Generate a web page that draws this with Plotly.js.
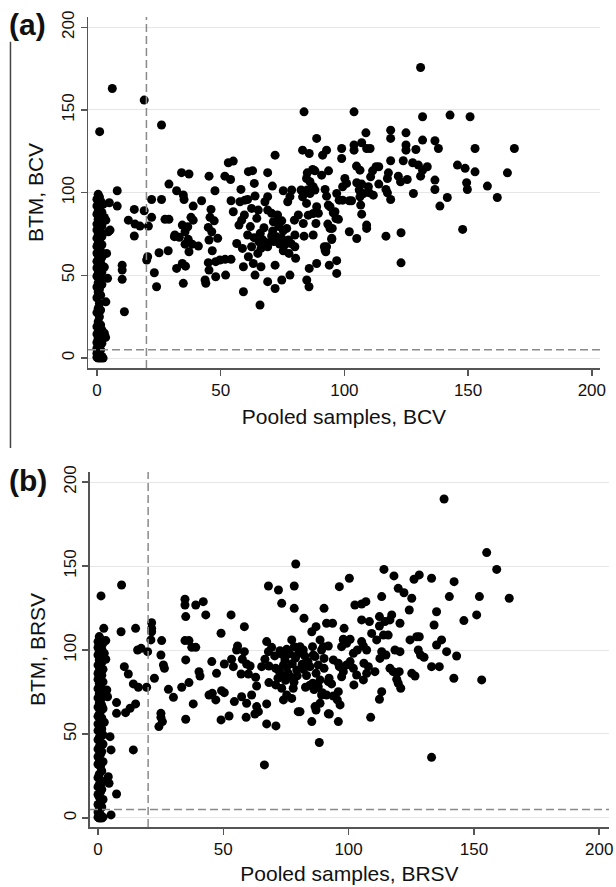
<!DOCTYPE html>
<html>
<head>
<meta charset="utf-8">
<script src="https://cdn.plot.ly/plotly-3.0.1.min.js"></script>
<style>html,body{margin:0;padding:0;background:#fff;}#chart{width:616px;height:887px;}</style>
</head>
<body>
<div id="chart"></div>
<script>
// ---------- Panel (a): BCV ----------
// [pooled samples, BTM] pairs
const bcvNearZero = [
[0.5,99],[1,97.5],[0,96],[1.5,95],[2.5,93],[0,92],[1,90.5],[0.5,89],[2,88],[0,87],[1,85.5],[3,85],[0.5,84],[1.5,82.5],[0,81],[2,80],[1,79],[0,77.5],[4.6,76.4],[5.3,77.4],[1.5,76],[0.5,75],[2,73.5],[0,72.5],[1,71],[0.5,69.5],[2,68.5],[0,67.5],[1,66],[1.5,64.5],[0,63.5],[0.5,62],[2,61],[1,60],[0,58.5],[1.5,57.5],[0.5,56],[3,55],[0,54.5],[1,53],[2,52],[0.5,51],[0,49.5],[1.5,48.5],[4.3,48.2],[1,47],[0.5,45.5],[2,44.5],[0,43],[1,41.5],[0.5,40],[1.5,38],[0,36.5],[3.6,34],[1,33],[0.5,30],[1.5,29],[0,27.5],[1,25],[0.5,22],[1.5,20],[0,19],[1,18],[2,17],[0.5,16],[3,15],[0,14.5],[1.5,13],[3.5,12.5],[0.5,12],[1,10.5],[0,9.5],[2,9],[0.5,8],[1,7],[0,6],[1.5,5],[0.5,4],[0,3],[1,2],[2,1],[0,0.5],[0.5,0],[1.5,0],[2.5,0],
[3.6,83.4],[3.9,63.3],[1.1,136.9],[6.2,163],[8.2,101.2],[8.2,91.9],[5,93.9],
[11.1,28],[10.2,56.2],[10.2,53.2],[10.2,47.6]
];
const bcvLow = [
[19.1,156],[26.1,140.9],[72,122.7],[53.1,118.1],[55.1,119.1],
[34.2,112.1],[37.2,111.3],[45.3,110],[51.7,110],[54,108],[61.2,112.7],[62.9,113.3],[69,112.1],[29.1,105.2],[63.6,105.6],[70.9,104],
[32.2,101.2],[34.9,98.6],[35.2,95.9],[22.1,95.9],[26.1,95.9],[47.7,101.2],[58.2,102],[60.9,95.9],[63.9,98],[67.9,94.5],[69,97.6],[75.3,101.2],[78.7,101.6],[78,97.6],[77.1,94.5],[42.3,95.1],[54.2,95.1],[57.8,94.5],[59.8,95.5],
[15.1,89.9],[19.1,89.1],[12.7,83.4],[15.4,81],[17.4,79.8],[20.8,79.8],[15.1,73.8],[22.1,85.1],[27.5,83.9],[29.1,83.9],[38.9,91.9],[38,85.1],[38.9,83.4],[34.5,80.4],[36.7,79.4],[35.6,76.4],[46.1,89.9],[45.7,85.1],[47.4,83],[45,79],[46.4,76.4],[55.1,88.5],[57.4,80.4],[58.5,83.4],[59.6,86.5],[62.5,90.5],[65.2,89.5],[64.6,84.5],[69,89.5],[70.6,87.5],[73,86.5],[71.3,82.4],[73,83.4],[74.7,83],[76.7,78.4],[79.8,83.4],[81.4,86.5],[31.5,74.4],[33.3,73],
[36.9,71.8],[38.5,68.9],[41,67.7],[35.6,68.9],[37.2,64.3],[45.3,71.4],[48.8,72.4],[46.6,64.9],[56.5,69.3],[60.9,74.4],[58.8,66.3],[61.2,61.3],[62.5,67.3],[65.5,70.3],[66.3,66.3],[65,63.3],[69,67.3],[70.6,73.8],[72.6,73.4],[74.7,72.4],[75.3,77],[77.4,71.4],[80,74.4],[75.3,64.9],[77.6,63.3],[80,67.3],[80.3,60.3],[20.5,61.3],[20.1,59.3],[25.1,63.7],[28.8,64.9],[31.3,73.4],
[23.2,51.6],[24.1,43.1],[32.2,54.2],[34.5,57.2],[35.8,55.6],[34.9,45.2],[45,57.7],[45.3,53.2],[48,58.3],[49.7,59.3],[51.8,59.7],[54.2,59.7],[43.7,47.2],[44,45.2],[48,49.2],[52,50.2],[59.2,55.2],[63.2,57.2],[63.9,50.2],[66.3,55.2],[72,56.2],[69,46.2],[72,42.1],[74.7,47.2],[78,50.2],[59.2,40.1],[65.9,32.1],
[84.8,47.2],[85.7,43.1],[96.9,51.2],
[67,71.5],[68.5,69.8],[71.5,70.5],[73.8,69],[76,68.5],[78.5,69.2],[66,75.5],[63.5,72.8],[71,76.8],[73.5,79.5],[67.5,78.8],[62,79.5]
];
const bcvHigh = [
[130.8,175.7],[83.7,148.9],[103.9,148.9],[131.6,145.9],[142.7,146.9],[150.8,145.9],[108.7,136.2],[118.7,137.8],[118.7,132.8],[124.9,136.2],[124.9,128.8],[124.9,125.7],[128.9,126.1],[131.6,131.8],[136.6,131.4],[138,126.7],[152.8,126.7],[168.7,126.7],[88.8,132.8],[98.9,126.7],[98.9,120.7],[103.9,128.8],[103.9,125.7],[107,130.2],[109,126.7],[110.4,126.7],[92.8,125.7],[91.2,122.7],[83.1,125.7],[85.8,123.7],
[118.7,119.3],[123.8,119.3],[127.6,118.1],[129.9,116.7],[133.5,115.7],[130.8,110],[131.6,113.6],[145.7,116.7],[148.8,114.7],[152.8,112.6],[165.9,112],[104.9,116.1],[106.3,113.6],[112.8,115.7],[113.9,115.7],[111.4,113.2],[110.6,109.6],[117.8,112],[117.4,108.6],[121.8,110],[122.7,106.6],[125.4,108],[93.6,113.2],[90.8,110.6],[85,112],[87.2,114],[88.1,113.2],[84.7,108.6],[86.1,106.6],[87.4,103.6],[85,101.6],[86.1,99.5],[82.5,101.6],[83.1,97.5],[88.1,101.6],[92.2,102],[96.9,99.5],
[100.2,108.6],[100.9,105.6],[99.3,103.6],[105,106],[107,105.2],[106,101.6],[107.7,99.5],[106.3,97.5],[109.7,103.6],[111.7,98.5],[110.1,99.9],[113.9,105.2],[116.8,102],[117.4,99.9],[118.7,95.9],[127.9,99.5],[136.6,107.6],[136.6,101.9],[149.4,106],[149.7,101.9],[157.8,104],[141.6,97.1],[138.6,91.9],[161.8,97.1],[147.8,77.8],
[97.9,95.5],[99.3,95.5],[102,95.1],[102.9,95.1],[106.6,92.5],[107,87],[92.8,97.9],[93.5,92.5],[94.2,91.5],[88.8,91.5],[87.4,87.4],[88.5,81.4],[84.7,93.5],[85.4,86.4],[83.4,81.4],[95.5,87.9],[96.6,84.4],[109,80.4],[109,78.4],[94.2,78.4],[94.9,71.7],[102,76.4],[105,72.3],[116.8,73.7],[122.9,75.8],[122.9,57.6],[87.4,74.4],[83.7,73.7],[92.2,65.3],[92.8,67.3],[93.9,56.2],[96.9,58.9],[88.8,57.2],[85.8,54.2],
[96.2,88.5],[97.6,83.9],[93.3,81],[95.1,78.4],[91.9,67.3],[94.9,72.4],[92.5,64.3],[89.5,87.5]
];

// ---------- Panel (b): BRSV ----------
const brsvNearZero = [
[0.5,108],[1,106.5],[0,105],[2,104],[1,103],[0,101.5],[1.5,100.5],[0.5,99],[2.5,98],[0,97],[1,95.5],[3.1,94.5],[0.5,94],[1.5,92.5],[0,91],[1,90],[2,88.5],[0.5,87.5],[0,86],[1.5,85],[1,83.5],[0,82.5],[2,81],[0.5,80],[1,78.5],[3.5,76.2],[0,77],[1.5,75.5],[0.5,74],[3.8,72.2],[2,73],[0,71.5],[1,70],[0.5,68.5],[1.5,67],[0,66],[2,65],[1,63.5],[0.5,62],[0,60.5],[1.5,59.5],[1,58],[2.5,57],[0,56],[0.5,54.5],[1.5,53],[0,52],[1,50.5],[2,49.5],[4.8,48.4],[0.5,48],[0,46.5],[1,45],[2,44],[0.5,42.5],[5.2,40.5],[0,41],[1.5,39.5],[1,38],[0,36.5],[0.5,35],[2,33.5],[0,32],[1,30.5],[1.5,28],[0.5,26],[4.1,24.6],[0,24],[1,22.5],[4.4,20.7],[2,21.5],[0.5,20],[0,18.5],[1.5,17],[1,15.5],[7.4,14.3],[0,14],[0.5,12.5],[2,11],[1,9.5],[0,8],[1.5,6.5],[0.5,5],[0,3.5],[1,2],[5.2,1.8],[0,0.5],[2,0.5],[0.5,0],[1.5,0],
[1.2,132.2],[2.3,112.9],[3.1,105.6]
];
const brsvLow = [
[78.9,151.2],[9.4,138.7],[68,138.1],[72,135.7],[78.3,138.1],[73.3,127.8],[78.3,124.8],[34.7,130.2],[34.7,126.8],[35,119.9],[39,126.8],[42,128.8],[43,120.9],[53.1,120.9],[58.4,113.9],[49.1,110],[21.4,116.3],[21.4,112.9],[21.4,110.9],[21.1,106],[25.4,105.6],[9.2,110.9],[15,112.9],[15.8,100],[17.2,101],[19.8,99],[25.1,97],[26.1,91.1],[26.5,89.1],[22.5,83.2],[10.5,90.1],[12.1,85.7],[14.1,79.8],[16.1,77.8],[19.4,77.8],[7.4,68.7],[7.4,62.3],[11,62.7],[12.8,65.3],[15,67.9],
[34.7,105.6],[36.3,105.6],[37.4,101.6],[39,101.6],[35,94.1],[45.4,93.1],[47.3,86.1],[50.4,91.7],[40.3,87.1],[40.7,84.5],[33.4,77.8],[28.1,76.6],[30.1,71.8],[36.3,80.6],[38,67.9],[44.3,73.2],[45.6,74.2],[47,70.3],[49.3,75.8],[50.4,74.6],[54.4,69.3],[57.3,72.2],[59.3,68.3],[49.1,58.4],[52.3,60.7],[35,58.8],[25.1,62.3],[25.1,59.9],[24.3,54.4],[25.7,57.4],
[55.7,102.4],[55.3,100],[58.4,99],[57.6,94.5],[53.3,94.5],[54,90.1],[57.1,85.7],[60,85.7],[60.7,90.5],[59.3,91.7],[62.9,83.8],[63.3,78.6],[61.3,73.2],[63.3,66.3],[64,63.3],[62.6,61.9],[59.1,59.9],[67.3,67.9],[67.3,56],[71,54.8],[66.4,31.6],[67.3,105],[69.3,101.6],[68,99],[66.6,94.5],[65.3,90.1],[68.2,90.5],[70.9,89.1],[68.2,80.6],[70.9,79.2],[73.3,77.2],[74,70.3],[75.3,73.2],[77.3,71.2],[79.9,63.3],[72.6,99.6],[75.3,100.4],[77.3,106],[78.3,102],[74.6,94.1],[75.9,86.1],[77,83.8],[79.3,88.1],[77.9,77.2],[72,88.1],[74,91.1],[80,98],[14.1,40.5],[70.5,96.5],
[73.5,97.5],[76.5,97.8],[78.8,95.2],[77.5,91.8],[75.2,89.5],[73,85.5],[74.8,82],[78.2,80.8],[71.8,83.2],[79.5,84.6]
];
const brsvHigh = [
[138.1,189.9],[155.1,158],[159.1,148],[164.1,130.8],[114.1,148],[118.1,144.1],[126.1,142.1],[128.2,144.7],[133.1,142.7],[142.1,140.7],[100.3,142.7],[96.3,137.7],[119.8,136.7],[122.1,134.1],[113.2,131.8],[125.2,130.8],[140.2,131.8],[152.2,131.8],[102.5,126.8],[105.2,127.4],[106.9,128.8],[90.2,124.8],[82.2,118.9],[124.2,123.8],[135.1,122.8],[146,117.5],[151.1,120.9],[134.1,114.9],
[105.2,117.9],[108.3,116.9],[112.3,119.9],[112.3,114.3],[114.5,116.9],[116.5,117.9],[117.2,120.9],[120.5,115.9],[91.2,115.9],[93.6,115.9],[87,113.9],[85.3,110.9],[98.2,112.9],[109.2,109.9],[111.2,106],[113.9,108.9],[115.8,108.9],[127.2,107.9],[128.2,107.9],[124.5,106],[137.1,106],[135.1,103],[97.9,106.4],[100.6,106.4],[99.2,104],[88.6,106],[89.9,102],[91.9,102.4],[80.6,102],[81.9,100],[85.6,102],
[105.2,105],[105.9,102.4],[107.2,100],[103.5,100],[101.9,98],[113.2,99],[112.5,95],[114.9,97],[118.5,100],[120.5,99],[127.8,100],[128.7,97],[130.1,95.7],[139.1,99],[143.1,96.4],[133.1,90.1],[136.2,90.1],[142,83.2],[153.1,82.2],[125.2,86.1],[126.5,84.5],[116.5,89.1],[117.8,87.1],[120.2,87.1],[119.2,82.6],[120.8,77.2],[119.8,80.2],[106.1,92.1],[107.9,90.1],[107.2,86.1],[105.9,82.2],[110.5,87.1],[113.2,75.2],[112.3,70.7],[108.8,59.9],
[101.9,89.1],[103.2,85.1],[102.1,79.2],[93.9,94.1],[96.3,90.1],[97.9,87.1],[97.2,84.1],[99.2,91.1],[100.6,93.1],[90.2,95],[90.2,89.1],[85.9,97],[84.6,90.1],[87,86.1],[85.7,80.2],[88.6,82.2],[91.9,81.2],[93.2,79.8],[89.2,73.2],[93.9,72.6],[95.5,70.3],[96.6,67.3],[87,64.3],[92.3,61.9],[95.9,57.4],[85.3,57.4],[88.3,44.9],[133.1,36.1],[80.6,63.3],
[86.6,96.1],[87.9,91.1],[89.2,100],[92.2,83.2],[95.9,92.1],[97.2,102],[97.9,106],[86.6,66.3],[88.6,68.3],[91.9,62],[89.5,74.6],[91.2,73.2],[95.9,75.2],[87.9,78.2],
[82.5,96.5],[83.8,93],[82,88.5],[83.2,84.8],[84.5,79],[86.2,76.5],[82.8,77.8],[81.5,91.5]
];

const tickValues = [0, 50, 100, 150, 200];
const tickLabels = ['0', '50', '100', '150', '200'];
const cutoffPooled = 20;   // vertical dashed reference
const cutoffBTM = 5;       // horizontal dashed reference

const bcv = bcvNearZero.concat(bcvLow, bcvHigh);
const brsv = brsvNearZero.concat(brsvLow, brsvHigh);

const markerStyle = {color: '#000', size: 9, line: {width: 0}};
const traces = [
  {type: 'scatter', mode: 'markers', x: bcv.map(p => p[0]), y: bcv.map(p => p[1]), xaxis: 'x', yaxis: 'y', marker: markerStyle, hoverinfo: 'x+y'},
  {type: 'scatter', mode: 'markers', x: brsv.map(p => p[0]), y: brsv.map(p => p[1]), xaxis: 'x2', yaxis: 'y2', marker: markerStyle, hoverinfo: 'x+y'}
];

const axisLine = {showline: true, linecolor: '#555', linewidth: 1.5, ticks: 'outside', ticklen: 6, tickwidth: 1.5, tickcolor: '#555', zeroline: false, tickvals: tickValues, ticktext: tickLabels, tickfont: {size: 17, color: '#111'}};
const titleFont = {size: 21, color: '#111'};

const layout = {
  width: 616, height: 887,
  margin: {l: 0, r: 0, t: 0, b: 0},
  paper_bgcolor: '#fff', plot_bgcolor: '#fff',
  showlegend: false,
  font: {family: 'Liberation Sans, Arial, sans-serif', color: '#111'},
  xaxis: Object.assign({}, axisLine, {domain: [0.1429, 0.974], anchor: 'y', range: [-3.6, 203.3], showgrid: false, title: {text: 'Pooled samples, BCV', font: titleFont, standoff: 10}}),
  yaxis: Object.assign({}, axisLine, {domain: [0.5851, 0.9808], anchor: 'x', range: [-6, 206.2], tickangle: -90, showgrid: true, gridcolor: '#e6e6e6', gridwidth: 1, title: {text: 'BTM, BCV', font: titleFont, standoff: 9}}),
  xaxis2: Object.assign({}, axisLine, {domain: [0.1461, 0.9886], anchor: 'y2', range: [-3.2, 203.9], showgrid: false, title: {text: 'Pooled samples, BRSV', font: titleFont, standoff: 8}}),
  yaxis2: Object.assign({}, axisLine, {domain: [0.0676, 0.4679], anchor: 'x2', range: [-5.4, 206], tickangle: -90, showgrid: true, gridcolor: '#e6e6e6', gridwidth: 1, title: {text: 'BTM, BRSV', font: titleFont, standoff: 9}}),
  shapes: [
    {type: 'line', xref: 'x', yref: 'y domain', x0: cutoffPooled, x1: cutoffPooled, y0: 0, y1: 1, line: {color: '#8a8a8a', width: 1.5, dash: '8px,4px'}},
    {type: 'line', xref: 'x domain', yref: 'y', x0: 0, x1: 1, y0: cutoffBTM, y1: cutoffBTM, line: {color: '#8a8a8a', width: 1.5, dash: '8px,4px'}},
    {type: 'line', xref: 'x2', yref: 'y2 domain', x0: cutoffPooled, x1: cutoffPooled, y0: 0, y1: 1, line: {color: '#8a8a8a', width: 1.5, dash: '8px,4px'}},
    {type: 'line', xref: 'x2 domain', yref: 'y2', x0: 0, x1: 1, y0: cutoffBTM, y1: cutoffBTM, line: {color: '#8a8a8a', width: 1.5, dash: '8px,4px'}},
    {type: 'line', xref: 'paper', yref: 'paper', x0: 0.017, x1: 0.017, y0: 0.495, y1: 0.953, line: {color: '#444', width: 1.5}}
  ],
  annotations: [
    {text: '<b>(a)</b>', xref: 'paper', yref: 'paper', x: 0.012, y: 0.972, xanchor: 'left', yanchor: 'middle', showarrow: false, font: {size: 30, color: '#111'}},
    {text: '<b>(b)</b>', xref: 'paper', yref: 'paper', x: 0.012, y: 0.458, xanchor: 'left', yanchor: 'middle', showarrow: false, font: {size: 30, color: '#111'}}
  ]
};

Plotly.newPlot('chart', traces, layout, {staticPlot: true, displayModeBar: false});
</script>
</body>
</html>
